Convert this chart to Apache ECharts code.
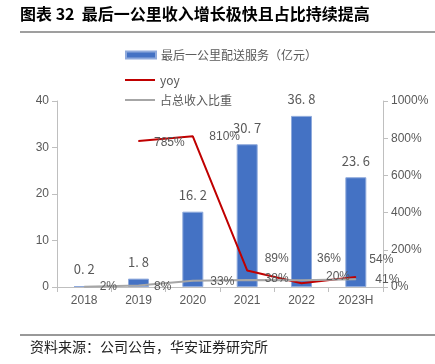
<!DOCTYPE html>
<html><head><meta charset="utf-8">
<script src="https://cdn.jsdelivr.net/npm/echarts@6/dist/echarts.min.js"></script>
<style>html,body{margin:0;padding:0;background:#fff}#c{width:435px;height:364px}</style>
</head><body><div id="c"></div>
<script>
var categories = ['2018','2019','2020','2021','2022','2023H'];
var revenue = [0.2, 1.8, 16.2, 30.7, 36.8, 23.6];
var yoy = [null, 785, 810, 89, 20, 54];
var share = [2, 8, 33, 38, 36, 41];

// label nudges (style only)
var yoyLabelOffsets = [[0,0],[0,2],[1,0],[2,-12],[9,-7],[-2,-17]];
var shareLabelOffsets = [[0,0],[0,1],[2,1],[2,-1],[0,-22],[4,0]];

function nudge(offs){
  return function(p){
    var o = offs[p.dataIndex] || [0,0];
    return {dx:o[0], dy:o[1], hideOverlap:false};
  };
}

var chart = echarts.init(document.getElementById('c'));
var txt = '#595959';
var font = '"Noto Sans CJK SC", sans-serif';
var numFont = '"Liberation Sans", Arial, sans-serif';
chart.setOption({
  animation: false,
  textStyle: {fontFamily: font},
  graphic: [
    {type:'text', left:20, top:6, style:{text:'图表 32  最后一公里收入增长极快且占比持续提高', fontSize:16, fontWeight:'bold', fontFamily:'"Noto Sans CJK SC"', fill:'#000'}},
    {type:'line', shape:{x1:20,y1:32,x2:435,y2:32}, style:{stroke:'#7f7f7f', lineWidth:1.5}},
    {type:'line', shape:{x1:20,y1:335,x2:435,y2:335}, style:{stroke:'#333', lineWidth:1}},
    {type:'text', left:30, top:340, style:{text:'资料来源：公司公告，华安证券研究所', fontSize:14, fontFamily:'"Noto Sans CJK SC"', fill:'#222'}}
  ],
  legend: [
    {orient:'vertical', left:120, top:44, itemWidth:30, itemHeight:7,
     textStyle:{color:txt, fontSize:12, fontFamily:font},
     data:[{name:'最后一公里配送服务（亿元）', icon:'rect'}]},
    {orient:'vertical', left:120, top:69, itemGap:8, itemWidth:30, itemHeight:2,
     textStyle:{color:txt, fontSize:12, fontFamily:font},
     data:[
      {name:'yoy', icon:'rect', itemStyle:{color:'#C00000'}},
      {name:'占总收入比重', icon:'rect', itemStyle:{color:'#A6A6A6'}}
     ]}
  ],
  grid: {left:57, right:52, top:101, bottom:77},
  xAxis: {
    type:'category', data:categories,
    axisLine:{lineStyle:{color:'#BFBFBF'}},
    axisTick:{show:true, alignWithLabel:false, lineStyle:{color:'#BFBFBF'}},
    axisLabel:{color:txt, fontSize:12, margin:8, fontFamily:numFont}
  },
  yAxis: [
    {type:'value', min:0, max:40, interval:10,
     axisLine:{show:true, lineStyle:{color:'#BFBFBF'}},
     axisTick:{show:true, lineStyle:{color:'#BFBFBF'}},
     splitLine:{show:false},
     axisLabel:{color:txt, fontSize:12, fontFamily:numFont}},
    {type:'value', min:0, max:1000, interval:200, position:'right',
     axisLine:{show:true, lineStyle:{color:'#BFBFBF'}},
     axisTick:{show:true, lineStyle:{color:'#BFBFBF'}},
     splitLine:{show:false},
     axisLabel:{color:txt, fontSize:12, fontFamily:numFont, formatter:function(v){return v+'%';}}}
  ],
  series: [
    {name:'最后一公里配送服务（亿元）', type:'bar', data:revenue, barWidth:21,
     itemStyle:{color:'#4472C4', borderColor:'#8FAADC', borderWidth:1},
     label:{show:true, position:'top', distance:10, color:txt, fontSize:13,
       formatter:function(p){return p.value.toFixed(1).replace('.', '. ');}}},
    {name:'yoy', type:'line', yAxisIndex:1, data:yoy, symbol:'circle', symbolSize:1, showSymbol:true,
     lineStyle:{color:'#C00000', width:2}, itemStyle:{color:'#C00000'},
     labelLayout: nudge(yoyLabelOffsets),
     label:{show:true, position:'right', distance:15, color:txt, fontSize:12, fontFamily:numFont, formatter:'{c}%'}},
    {name:'占总收入比重', type:'line', yAxisIndex:1, data:share, symbol:'circle', symbolSize:1, showSymbol:true,
     lineStyle:{color:'#A6A6A6', width:2}, itemStyle:{color:'#A6A6A6'},
     labelLayout: nudge(shareLabelOffsets),
     label:{show:true, position:'right', distance:15, color:txt, fontSize:12, fontFamily:numFont, formatter:'{c}%'}}
  ]
});
</script></body></html>
